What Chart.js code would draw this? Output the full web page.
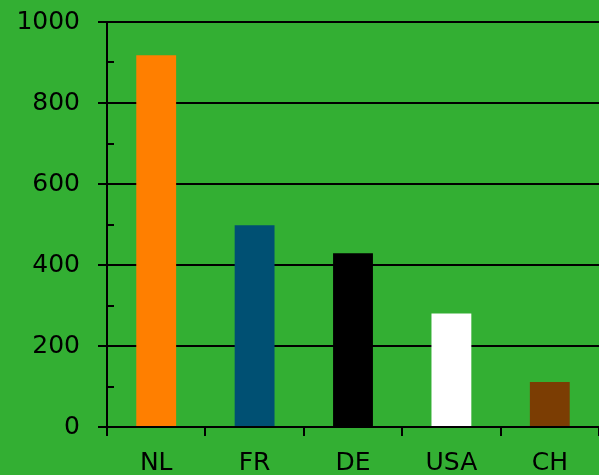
<!DOCTYPE html>
<html>
<head>
<meta charset="utf-8">
<script src="https://cdn.jsdelivr.net/npm/chart.js@4"></script>
<style>
  html, body { margin: 0; padding: 0; background: #33AF33; }
  #wrap { width: 599px; height: 475px; }
</style>
</head>
<body>
<div id="wrap"><canvas id="chart"></canvas></div>
<script>
    // --- Data ---
    const countries = ['NL', 'FR', 'DE', 'USA', 'CH'];
    const amounts = [918, 498, 429, 280, 111];
    const barColors = ['#FF7F00', '#005073', '#000000', '#FFFFFF', '#7B3D03'];
    const minorTicks = [100, 300, 500, 700, 900];

    // small ticks on the inside of the y axis
    const minorTickPlugin = {
        id: 'minorTicks',
        afterDraw(chart) {
            const ctx = chart.ctx;
            const y = chart.scales.y;
            ctx.save();
            ctx.strokeStyle = '#000';
            ctx.lineWidth = 2;
            minorTicks.forEach(v => {
                const py = Math.round(y.getPixelForValue(v));
                ctx.beginPath();
                ctx.moveTo(y.right, py);
                ctx.lineTo(y.right + 7, py);
                ctx.stroke();
            });
            ctx.restore();
        }
    };

    const font = { family: '"DejaVu Sans", Verdana, sans-serif', size: 25 };

    new Chart(document.getElementById('chart'), {
        type: 'bar',
        data: {
            labels: countries,
            datasets: [{
                data: amounts,
                backgroundColor: barColors,
                categoryPercentage: 1,
                barPercentage: 0.405
            }]
        },
        options: {
            responsive: true,
            maintainAspectRatio: false,
            animation: false,
            layout: { padding: { top: 22, right: 0, left: 0, bottom: 0 } },
            plugins: { legend: { display: false }, tooltip: { enabled: false } },
            scales: {
                x: {
                    grid: { offset: true, drawOnChartArea: false, color: '#000', lineWidth: 2, tickLength: 9 },
                    border: { display: true, color: '#000', width: 2 },
                    ticks: { color: '#000', font: font, padding: 12 },
                    afterFit: scale => { scale.height = 48; scale.paddingLeft = 0; scale.paddingRight = 0; }
                },
                y: {
                    min: 0,
                    max: 1000,
                    ticks: { stepSize: 200, color: '#000', font: font, padding: 18, callback: v => String(v) },
                    grid: { color: '#000', lineWidth: 2, tickLength: 9 },
                    border: { display: true, color: '#000', width: 2 },
                    afterFit: scale => { scale.width = 107; scale.paddingTop = 0; scale.paddingBottom = 0; }
                }
            }
        },
        plugins: [minorTickPlugin]
    });
</script>
</body>
</html>
